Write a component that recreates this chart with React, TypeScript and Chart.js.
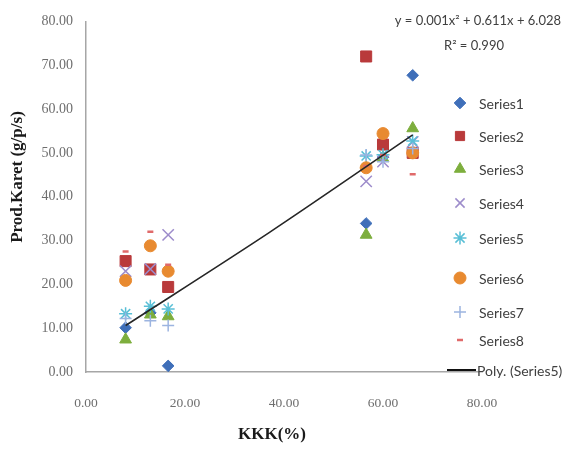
import React, { useEffect, useRef } from "react";
import { Chart, registerables } from "chart.js";
import { drawPoint } from "chart.js/helpers";

Chart.register(...registerables);

const kkk = [8, 13, 16.6, 56.6, 60, 66];

const series1 = [10.1, 13.5, 1.4, 33.9, 49, 67.7];
const series2 = [25.3, 23.4, 19.4, 72, 51.9, 50];
const series3 = [7.4, 13.1, 12.7, 31.3, 48.8, 55.6];
const series4 = [23, 23.5, 31.3, 43.5, 48, 52.5];
const series5 = [13.3, 15, 14.4, 49.3, 49.6, 52.7];
const series6 = [20.9, 28.8, 23, 46.6, 54.4, 50];
const series7 = [12.2, 11.7, 10.6, 49.5, 48, 51];
const series8 = [27.5, 32, 24.5, 47, 49.5, 45.1];

const seriesNames = ["Series1", "Series2", "Series3", "Series4", "Series5", "Series6", "Series7", "Series8"];
const seriesValues = [series1, series2, series3, series4, series5, series6, series7, series8];

// Polynomial trendline of Series5
const trendX = [8, 37, 66];
const trendY = [10.6, 31.8, 54.1];

const xTicks = [0, 20, 40, 60, 80];
const yTicks = [0, 10, 20, 30, 40, 50, 60, 70, 80];

const equationText = "y = 0.001x² + 0.611x + 6.028";
const r2Text = "R² = 0.990";
const xTitle = "KKK(%)";
const yTitle = "Prod.Karet (g/p/s)";
const trendName = "Poly. (Series5)";

const styles = [
  { pointStyle: "rectRot", color: "#3f6fb9", radius: 5.8, borderWidth: 1 },
  { pointStyle: "rect", color: "#b93a3b", radius: 7.8, borderWidth: 1 },
  { pointStyle: "triangle", color: "#7dae3d", radius: 6.8, borderWidth: 1 },
  { pointStyle: "crossRot", color: "#9d8ccb", radius: 8, borderWidth: 1.5 },
  { pointStyle: "star", color: "#59bfd6", radius: 6.5, borderWidth: 1.5 },
  { pointStyle: "circle", color: "#e88a30", radius: 6, borderWidth: 1 },
  { pointStyle: "cross", color: "#9cb4e0", radius: 6, borderWidth: 1.5 },
  { pointStyle: "line", color: "#e06a6a", radius: 3, borderWidth: 2.5 },
];

const legendRows = [103, 136, 169, 203, 238, 278, 312, 340];
const polyRow = 370;

export default function App() {
  const ref = useRef<HTMLCanvasElement>(null);

  useEffect(() => {
    document.body.style.margin = "0";
    const canvas = ref.current;
    if (!canvas) return;

    const datasets: any[] = seriesValues.map((vals, i) => ({
      label: seriesNames[i],
      data: kkk.map((x, j) => ({ x, y: vals[j] })),
      pointStyle: styles[i].pointStyle,
      pointRadius: styles[i].radius,
      pointBorderWidth: styles[i].borderWidth,
      backgroundColor: styles[i].color,
      borderColor: styles[i].color,
      showLine: false,
      order: 20 - i,
    }));

    datasets.push({
      label: trendName,
      data: trendX.map((x, j) => ({ x, y: trendY[j] })),
      showLine: true,
      pointRadius: 0,
      borderColor: "#262626",
      borderWidth: 1.6,
      backgroundColor: "#262626",
      tension: 0.3,
      order: 0,
    });

    const overlay = {
      id: "overlay",
      afterDraw(chart: any) {
        const ctx = chart.ctx as CanvasRenderingContext2D;
        ctx.save();
        // Axis titles
        ctx.fillStyle = "#1a1a1a";
        ctx.font = "bold 17px 'Liberation Serif'";
        ctx.textAlign = "center";
        ctx.textBaseline = "middle";
        ctx.fillText(xTitle, 272, 435);
        ctx.save();
        ctx.translate(18, 177);
        ctx.rotate(-Math.PI / 2);
        ctx.fillText(yTitle, 0, 0);
        ctx.restore();

        // Equation
        ctx.fillStyle = "#404040";
        ctx.font = "13px Lato";
        ctx.textAlign = "right";
        ctx.fillText(equationText, 561, 21);
        ctx.textAlign = "center";
        ctx.fillText(r2Text, 474, 46);

        // Legend
        ctx.font = "14px Lato";
        ctx.textAlign = "left";
        for (let i = 0; i < seriesNames.length; i++) {
          const st = styles[i];
          ctx.fillStyle = st.color;
          ctx.strokeStyle = st.color;
          ctx.lineWidth = st.borderWidth;
          drawPoint(ctx, { pointStyle: st.pointStyle, radius: Math.min(st.radius, 6.5), borderWidth: st.borderWidth, rotation: 0 } as any, 460, legendRows[i]);
          ctx.fillStyle = "#404040";
          ctx.fillText(seriesNames[i], 479, legendRows[i] + 1);
        }
        ctx.strokeStyle = "#111";
        ctx.lineWidth = 2;
        ctx.beginPath();
        ctx.moveTo(447, polyRow);
        ctx.lineTo(476, polyRow);
        ctx.stroke();
        ctx.fillStyle = "#404040";
        ctx.fillText(trendName, 477, polyRow + 1);
        ctx.restore();
      },
    };

    const chart = new Chart(canvas, {
      type: "scatter",
      data: { datasets },
      options: {
        animation: false,
        responsive: false,
        devicePixelRatio: 1,
        layout: { padding: { top: 17, right: 84, left: 0, bottom: 0 } },
        plugins: { legend: { display: false }, tooltip: { enabled: false } },
        scales: {
          x: {
            type: "linear",
            min: 0,
            max: 80,
            afterFit: (s: any) => { s.height = 79; },
            afterBuildTicks: (s: any) => { s.ticks = xTicks.map((v) => ({ value: v })); },
            grid: { display: false, drawTicks: false },
            border: { display: true, color: "#a6a6a6", width: 1.5 },
            ticks: {
              padding: 23,
              color: "#6e6e6e",
              font: { family: "'Liberation Serif'", size: 13.5 },
              callback: (v: any) => Number(v).toFixed(2),
            },
          },
          y: {
            type: "linear",
            min: 0,
            max: 80,
            afterFit: (s: any) => { s.width = 86; },
            afterBuildTicks: (s: any) => { s.ticks = yTicks.map((v) => ({ value: v })); },
            grid: { display: false, drawTicks: false },
            border: { display: true, color: "#a6a6a6", width: 1.5 },
            ticks: {
              padding: 13,
              color: "#6e6e6e",
              font: { family: "'Liberation Serif'", size: 14 },
              callback: (v: any) => Number(v).toFixed(2),
            },
          },
        },
      },
      plugins: [overlay],
    });

    return () => chart.destroy();
  }, []);

  return (
    <div style={{ width: 566, height: 451, background: "#fff" }}>
      <canvas ref={ref} width={566} height={451} />
    </div>
  );
}
